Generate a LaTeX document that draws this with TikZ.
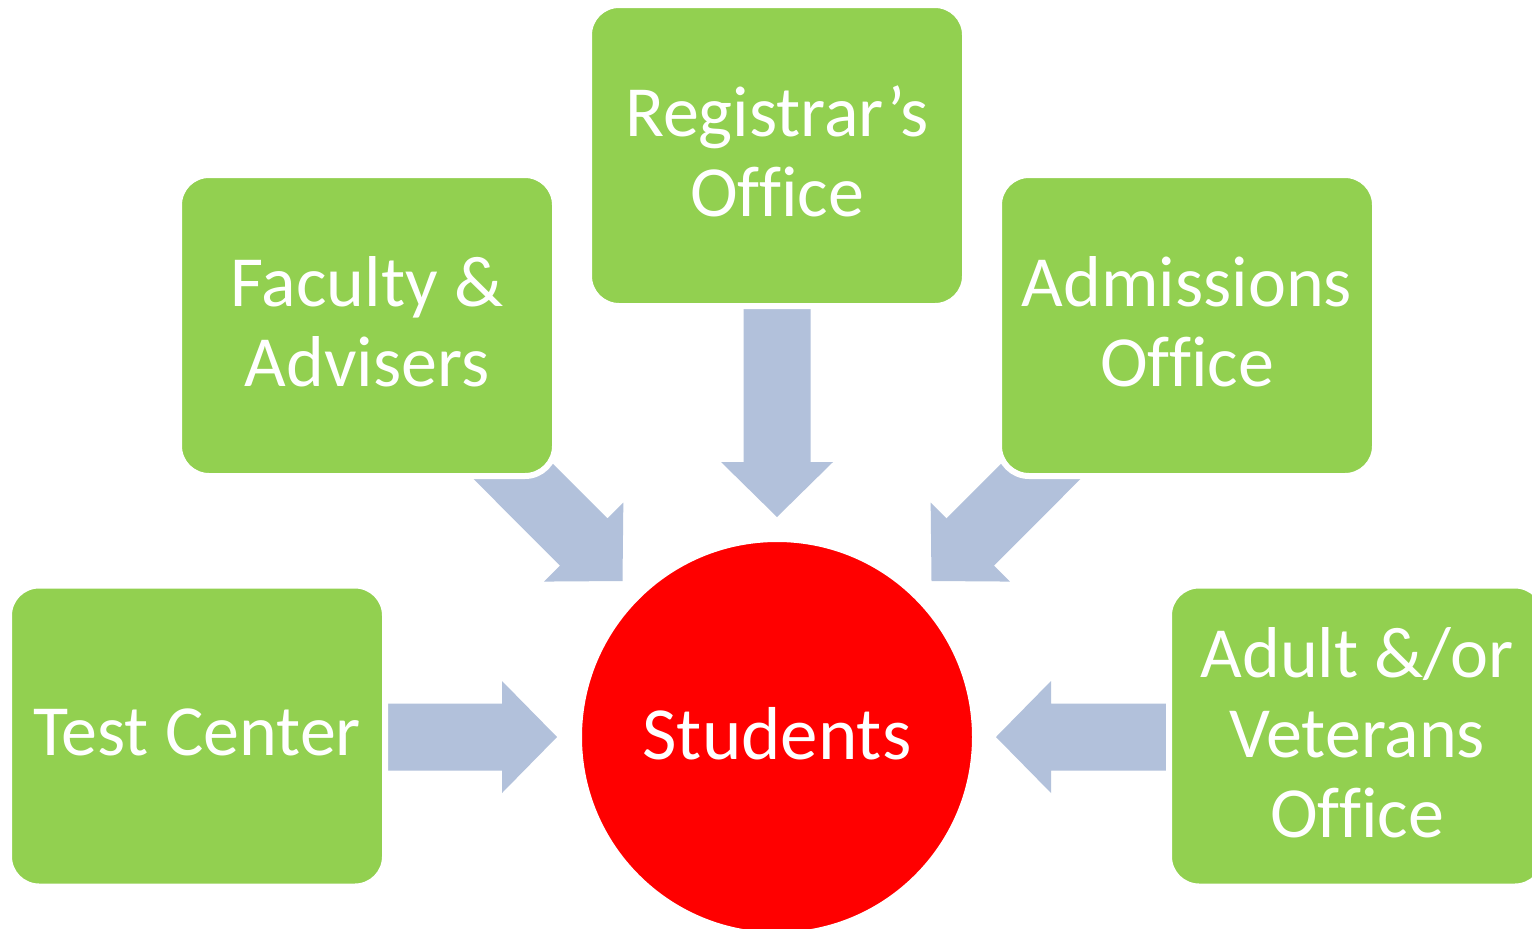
\documentclass[tikz,border=0pt]{standalone}
\usepackage{fontspec}
\setmainfont{Carlito}[Ligatures=NoCommon]
\usetikzlibrary{calc,backgrounds}
\definecolor{boxgreen}{HTML}{92D050}
\definecolor{arrowblue}{HTML}{B2C1DB}
\definecolor{studred}{HTML}{FF0000}
\newcommand\lowstrut{\rule[-8pt]{0pt}{8pt}}
\tikzset{
  officebox/.style={rectangle, rounded corners=30pt, fill=boxgreen, draw=white,
    line width=6pt, minimum width=376pt, minimum height=301pt, inner sep=0pt,
    outer sep=0pt, text=white, align=center, font=\fontsize{72}{80}\selectfont},
  studcircle/.style={circle, fill=studred, draw=white, line width=6pt,
    minimum size=396pt, inner sep=0pt, outer sep=0pt, text=white,
    font=\fontsize{75}{80}\selectfont},
  arrowfill/.style={fill=arrowblue}
}
\newcommand\blockarrow[2]{%
  \coordinate (ba-h) at ($(#2)!55pt!(#1)$);
  \fill[arrowfill] ($(#1)!33.5pt!90:(#2)$) -- ($(ba-h)!33.5pt!90:(#2)$)
    -- ($(ba-h)!56pt!90:(#2)$) -- (#2) -- ($(ba-h)!56pt!-90:(#2)$)
    -- ($(ba-h)!33.5pt!-90:(#2)$) -- ($(#1)!33.5pt!-90:(#2)$) -- cycle;
}
\begin{document}
\begin{tikzpicture}[x=1pt,y=-1pt]
\useasboundingbox (0,0) rectangle (1532,929);
\node[officebox] (reg) at (777,155.5) {Registrar’s\\Office\lowstrut};
\node[officebox] (fac) at (367,325.5) {Faculty \&\\Advisers\lowstrut};
\node[officebox] (adm) at (1187,325.5) {Admissions\\Office\lowstrut};
\node[officebox] (test) at (197,736) {Test Center\lowstrut};
\node[officebox] (adult) at (1357,736) {Adult \&/or\\Veterans\\Office\lowstrut};
\node[studcircle] (stu) at (777,737) {Students\lowstrut};
\coordinate (reg-tail) at ($(reg.south)+(0,3)$);
\coordinate (reg-tip) at ($(stu.north)+(0,-22)$);
\coordinate (test-tail) at ($(test.east|-stu.center)+(2,0)$);
\coordinate (test-tip) at ($(stu.west)+(-22,0)$);
\coordinate (adult-tail) at ($(adult.west|-stu.center)+(-2,0)$);
\coordinate (adult-tip) at ($(stu.east)+(21,0)$);
\coordinate (fac-tail) at ($(fac.south east)+(-70,-33)$);
\coordinate (fac-tip) at ($(stu.center)+(-154.5,-156)$);
\coordinate (adm-tail) at ($(adm.south west)+(70,-33)$);
\coordinate (adm-tip) at ($(stu.center)+(154.5,-156)$);
\begin{scope}[on background layer]
  \fill[white] (0,0) rectangle (1532,929);
  \blockarrow{reg-tail}{reg-tip}
  \blockarrow{test-tail}{test-tip}
  \blockarrow{adult-tail}{adult-tip}
  \blockarrow{fac-tail}{fac-tip}
  \blockarrow{adm-tail}{adm-tip}
\end{scope}
\end{tikzpicture}
\end{document}
